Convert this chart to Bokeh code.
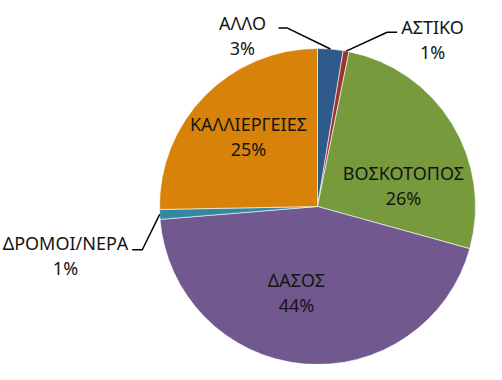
import math
from bokeh.plotting import figure
from bokeh.models import Range1d, ColumnDataSource
from bokeh.core.properties import value
from bokeh.embed import file_html
from bokeh.resources import INLINE

# ---- data ----
categories = ["ΑΛΛΟ", "ΑΣΤΙΚΟ", "ΒΟΣΚΟΤΟΠΟΣ", "ΔΑΣΟΣ", "ΔΡΟΜΟΙ/ΝΕΡΑ", "ΚΑΛΛΙΕΡΓΕΙΕΣ"]
shares = [2.6, 0.6, 26.1, 44.4, 1.0, 25.3]
colors = ["#2F5B8C", "#9A3532", "#779A3D", "#71588F", "#3288A0", "#D9820A"]

# ---- layout (pie centred at 0,0 with radius 1) ----
label_x = [-0.475, 0.728, 0.544, -0.133, -1.595, -0.437]
label_y = [1.085, 1.054, 0.133, -0.544, -0.313, 0.443]
# leader elbows for outer labels
leaders = {
    0: [(-0.247, 1.129), (-0.19, 1.129)],
    1: [(0.504, 1.103), (0.441, 1.103)],
    4: [(-1.173, -0.274), (-1.109, -0.274)],
}

total = sum(shares)
starts, ends, mids = [], [], []
cum = 0.0
for v in shares:
    a0 = math.pi / 2 - 2 * math.pi * cum / total
    cum += v
    a1 = math.pi / 2 - 2 * math.pi * cum / total
    starts.append(a0)
    ends.append(a1)
    mids.append((a0 + a1) / 2)

pct = [f"{int(v / total * 100 + 0.5)}%" for v in shares]

FONT = "Noto Sans"
p = figure(width=486, height=364, output_backend="svg", toolbar_location=None,
           x_range=Range1d(-2.0063, 1.0696), y_range=Range1d(-1.0, 1.3038),
           min_border=0, outline_line_color=None, background_fill_color="white")
p.axis.visible = False
p.grid.visible = False

src = ColumnDataSource(dict(start=starts, end=ends, color=colors))
p.wedge(x=0, y=0, radius=1, start_angle="start", end_angle="end", direction="clock",
        fill_color="color", line_color="white", line_width=0.6, source=src)

xs, ys = [], []
for i, pts in leaders.items():
    ex, ey = math.cos(mids[i]), math.sin(mids[i])
    xs.append([pts[0][0], pts[1][0], ex])
    ys.append([pts[0][1], pts[1][1], ey])
p.multi_line(xs=xs, ys=ys, line_color="black", line_width=1.5)

tsrc = ColumnDataSource(dict(x=label_x, y=label_y, name=categories, pct=pct))
p.text(x="x", y="y", text="name", source=tsrc, text_font=value(FONT),
       text_font_size="18px", text_align="center", text_baseline="middle",
       y_offset=-12.5, text_color="#151515")
p.text(x="x", y="y", text="pct", source=tsrc, text_font=value(FONT),
       text_font_size="18px", text_align="center", text_baseline="middle",
       y_offset=12.5, text_color="#151515")

open("out.html", "w").write(file_html(p, INLINE))
